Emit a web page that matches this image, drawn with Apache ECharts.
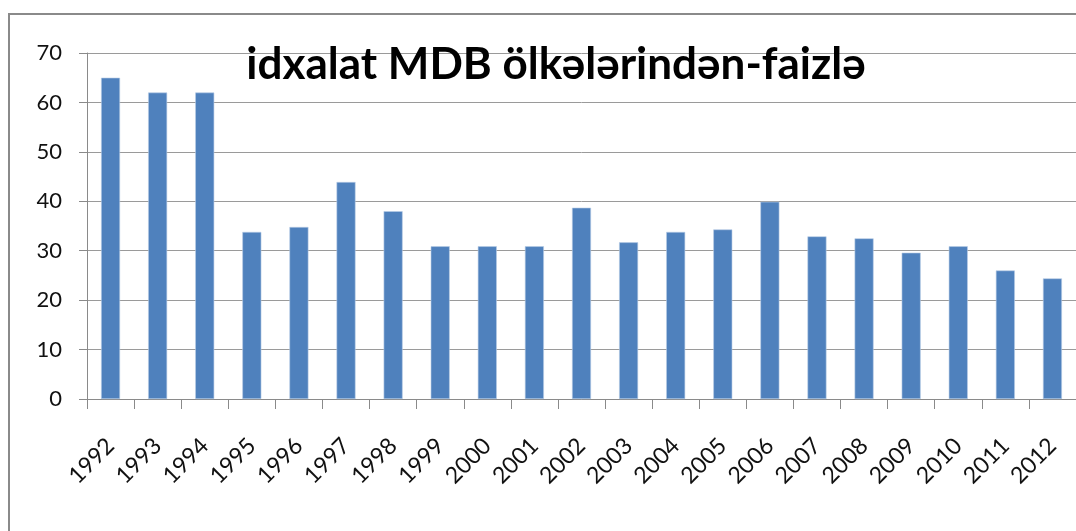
<!DOCTYPE html>
<html>
<head>
<meta charset="utf-8">
<script src="https://cdn.jsdelivr.net/npm/echarts@6/dist/echarts.min.js"></script>
<style>
	html, body { margin: 0; padding: 0; background: #fff; }
	#chart { width: 1076px; height: 531px; }
</style>
</head>
<body>
<div id="chart"></div>
<script>
const title = "idxalat MDB ölkələrindən-faizlə"
const years = ["1992", "1993", "1994", "1995", "1996", "1997", "1998", "1999", "2000", "2001", "2002",
	"2003", "2004", "2005", "2006", "2007", "2008", "2009", "2010", "2011", "2012"]
const shares = [65, 62, 62, 33.8, 34.8, 43.9, 38, 30.9, 30.9, 30.9, 38.7,
	31.7, 33.8, 34.3, 39.9, 32.9, 32.5, 29.6, 30.9, 26, 24.4]

const font = "Lato, 'Open Sans', sans-serif"

const chart = echarts.init(document.getElementById("chart"), null, { renderer: "canvas" })

const option = {
	backgroundColor: "#fff",
	animation: false,
	title: {
		text: title,
		left: 551,
		top: 38,
		textAlign: "center",
		textStyle: {
			fontFamily: font,
			fontWeight: "bold",
			fontSize: 44,
			color: "#000",
		},
	},
	graphic: [
		{
			type: "rect",
			shape: { x: 9, y: 14, width: 1200, height: 700 },
			style: { fill: "none", stroke: "#8a8a8a", lineWidth: 2 },
			silent: true,
			z: -1,
		},
	],
	grid: {
		left: 87,
		right: 0,
		top: 53,
		bottom: 132,
	},
	xAxis: {
		type: "category",
		data: years,
		axisLine: { lineStyle: { color: "#8a8a8a", width: 1 } },
		axisTick: { show: true, length: 10, lineStyle: { color: "#8a8a8a" } },
		axisLabel: {
			rotate: 45,
			margin: 43,
			fontFamily: font,
			fontSize: 23,
			color: "#111",
		},
	},
	yAxis: {
		type: "value",
		min: 0,
		max: 70,
		interval: 10,
		axisLine: { show: true, lineStyle: { color: "#8a8a8a", width: 1 } },
		axisTick: { show: true, length: 8, lineStyle: { color: "#8a8a8a" } },
		splitLine: { lineStyle: { color: "#9a9a9a", width: 1 } },
		axisLabel: {
			margin: 25,
			fontFamily: font,
			fontSize: 22,
			color: "#111",
		},
	},
	series: [
		{
			type: "bar",
			data: shares,
			barWidth: 19,
			itemStyle: {
				color: "#4f81bd",
				borderColor: "#b9cde5",
				borderWidth: 0.6,
			},
		},
	],
}

chart.setOption(option)
</script>
</body>
</html>
